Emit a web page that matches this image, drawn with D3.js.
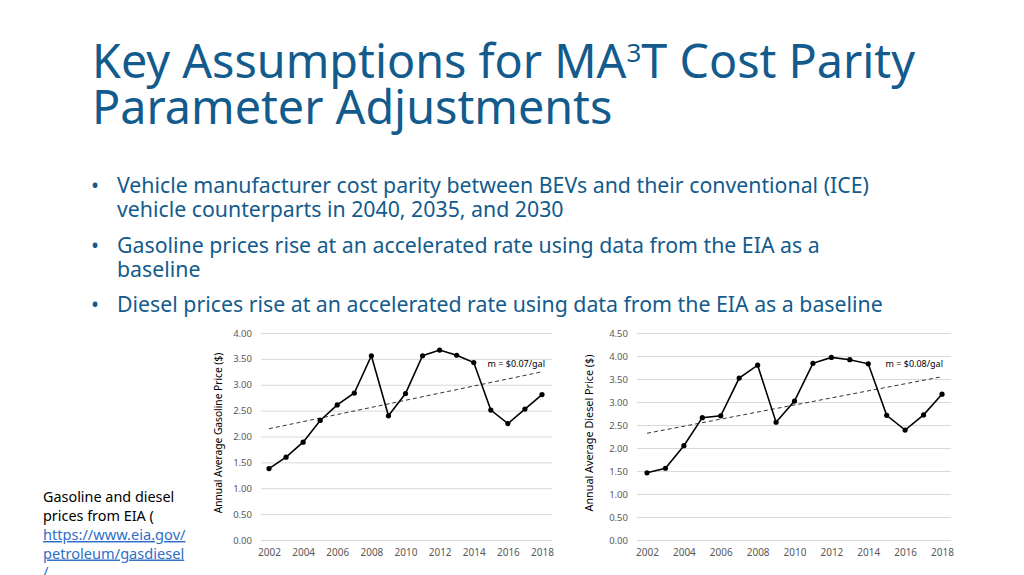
<!DOCTYPE html>
<html>
<head>
<meta charset="utf-8">
<script src="https://cdn.jsdelivr.net/npm/d3@7"></script>
<style>
  body { margin: 0; background: #fff; }
  svg { display: block; font-family: "Noto Sans", "Open Sans", sans-serif; }
  .tick text { fill: #595959; }
</style>
</head>
<body>
<svg id="slide" width="1024" height="575"></svg>
<script>
// data
var years = [2002, 2003, 2004, 2005, 2006, 2007, 2008, 2009, 2010, 2011, 2012, 2013, 2014, 2015, 2016, 2017, 2018];
var gasoline = [1.38, 1.60, 1.89, 2.31, 2.61, 2.84, 3.56, 2.40, 2.83, 3.56, 3.67, 3.57, 3.43, 2.51, 2.25, 2.53, 2.81];
var diesel = [1.46, 1.56, 2.05, 2.66, 2.70, 3.52, 3.80, 2.56, 3.02, 3.84, 3.97, 3.92, 3.83, 2.71, 2.39, 2.72, 3.17];
var gasTrend = [2.15, 3.25];     // dashed trend line at 2002 and 2018
var dieselTrend = [2.32, 3.55];
var gasTicks = [0, 0.5, 1, 1.5, 2, 2.5, 3, 3.5, 4];
var dieselTicks = [0, 0.5, 1, 1.5, 2, 2.5, 3, 3.5, 4, 4.5];
var yearTicks = [2002, 2004, 2006, 2008, 2010, 2012, 2014, 2016, 2018];

var blue = "#135b8c";
var svg = d3.select("#slide");

// Title
var title = svg.append("text")
    .attr("fill", blue)
    .attr("font-size", "46.7px");
var t1 = title.append("tspan").attr("x", 92).attr("y", 78);
t1.append("tspan").text("Key Assumptions for MA");
t1.append("tspan").attr("font-size", "26px").attr("dy", -16).text("3");
t1.append("tspan").attr("dy", 16).text("T Cost Parity");
title.append("tspan").attr("x", 92).attr("y", 124).text("Parameter Adjustments");

// Bullets
var bullets = [
    { lines: ["Vehicle manufacturer cost parity between BEVs and their conventional (ICE)",
              "vehicle counterparts in 2040, 2035, and 2030"], y: 193 },
    { lines: ["Gasoline prices rise at an accelerated rate using data from the EIA as a",
              "baseline"], y: 253 },
    { lines: ["Diesel prices rise at an accelerated rate using data from the EIA as a baseline"], y: 312 }
];
bullets.forEach(function(b) {
    svg.append("text")
        .attr("x", 91).attr("y", b.y)
        .attr("fill", blue).attr("font-size", "21.3px")
        .text("\u2022");
    var tx = svg.append("text")
        .attr("fill", blue).attr("font-size", "21.3px");
    b.lines.forEach(function(l, i) {
        tx.append("tspan").attr("x", 117).attr("y", b.y + i * 24).text(l);
    });
});

// Footnote
var note = svg.append("text").attr("font-size", "14.4px").attr("fill", "#000");
note.append("tspan").attr("x", 43).attr("y", 502).text("Gasoline and diesel");
note.append("tspan").attr("x", 43).attr("y", 521).text("prices from EIA (");
["https://www.eia.gov/", "petroleum/gasdiesel", "/"].forEach(function(l, i) {
    svg.append("text")
        .attr("x", 43).attr("y", 540 + i * 18.5)
        .attr("font-size", "14.6px")
        .attr("fill", "#2f6fc7")
        .attr("text-decoration", "underline")
        .text(l);
});

function drawChart(opt) {
    var x = d3.scaleLinear().domain([2002, 2018]).range(opt.xr);
    var y = d3.scaleLinear().domain([0, opt.ymax]).range([540, 333]);
    var g = svg.append("g");

    // gridlines + y tick labels
    var yAxis = g.append("g")
        .attr("transform", "translate(" + opt.gx[0] + ",0)")
        .call(d3.axisLeft(y)
            .tickValues(opt.ticks)
            .tickFormat(d3.format(".2f"))
            .tickSize(-(opt.gx[1] - opt.gx[0]))
            .tickPadding(9));
    yAxis.select(".domain").remove();
    yAxis.selectAll(".tick line").attr("stroke", "#d9d9d9").attr("stroke-width", 1);
    yAxis.selectAll(".tick text").attr("font-size", "9.5px").attr("font-family", "Noto Sans");

    // x tick labels
    var xAxis = g.append("g")
        .attr("transform", "translate(0,540)")
        .call(d3.axisBottom(x)
            .tickValues(yearTicks)
            .tickFormat(d3.format("d"))
            .tickSize(0)
            .tickPadding(9));
    xAxis.select(".domain").remove();
    xAxis.selectAll(".tick text").attr("font-size", "10px").attr("font-family", "Noto Sans");

    // y axis title
    g.append("text")
        .attr("transform", "translate(" + opt.labelX + "," + 433 + ") rotate(-90)")
        .attr("text-anchor", "middle")
        .attr("font-size", opt.labelSize)
        .attr("fill", "#000")
        .text(opt.label);

    // trend line
    g.append("line")
        .attr("x1", x(2002)).attr("y1", y(opt.trend[0]))
        .attr("x2", x(2018)).attr("y2", y(opt.trend[1]))
        .attr("stroke", "#333")
        .attr("stroke-width", 1)
        .attr("stroke-dasharray", "4,3");

    var pts = years.map(function(d, i) { return { year: d, v: opt.values[i] }; });

    g.append("path")
        .datum(pts)
        .attr("fill", "none")
        .attr("stroke", "#000")
        .attr("stroke-width", 1.6)
        .attr("d", d3.line()
            .x(function(d) { return x(d.year); })
            .y(function(d) { return y(d.v); }));

    g.selectAll("circle.pt")
        .data(pts)
        .enter()
        .append("circle")
            .attr("class", "pt")
            .attr("cx", function(d) { return x(d.year); })
            .attr("cy", function(d) { return y(d.v); })
            .attr("r", 2.6)
            .attr("fill", "#000");

    g.append("text")
        .attr("x", x(2018) + opt.noteShift)
        .attr("y", 367)
        .attr("text-anchor", "end")
        .attr("font-size", "9px")
        .attr("fill", "#000")
        .text(opt.note);
}

drawChart({
    values: gasoline, trend: gasTrend, ymax: 4, ticks: gasTicks,
    xr: [269, 542], gx: [261, 552], labelX: 222, labelSize: "10.2px", noteShift: 3,
    label: "Annual Average Gasoline Price ($)", note: "m = $0.07/gal"
});

drawChart({
    values: diesel, trend: dieselTrend, ymax: 4.5, ticks: dieselTicks,
    xr: [647, 942], gx: [637, 951], labelX: 593, labelSize: "10.8px", noteShift: 1,
    label: "Annual Average Diesel Price ($)", note: "m = $0.08/gal"
});
</script>
</body>
</html>
